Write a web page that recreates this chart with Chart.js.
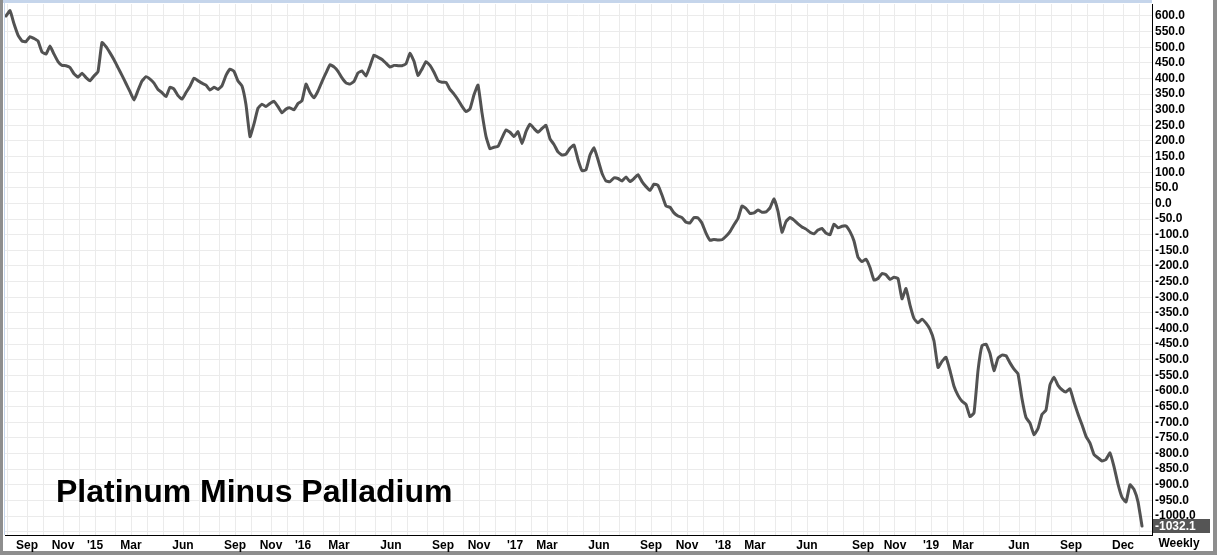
<!DOCTYPE html>
<html><head><meta charset="utf-8">
<script src="https://cdn.jsdelivr.net/npm/chart.js@4.4.1/dist/chart.umd.min.js"></script>
<style>html,body{margin:0;padding:0;background:#fff;overflow:hidden}#wrap{position:relative;width:1217px;height:555px}canvas{display:block}</style>
</head><body><div id="wrap"><canvas id="c" width="1217" height="555"></canvas></div>
<script>
const TITLE = 'Platinum Minus Palladium';
const PERIOD_LABEL = 'Weekly';
const FIRST_WEEK = [2014, 6, 25]; // Fri 25 Jul 2014, weekly closes
const spread = [
600,617,575,539,520,518,534,528,520,485,478,504,478,454,442,441,435,415,404,417,
403,393,408,422,515,502,482,460,435,410,384,358,331,362,392,406,398,385,365,355,
342,372,366,345,334,355,375,401,393,385,379,363,372,365,377,410,430,423,392,376,
316,214,255,305,318,310,320,327,310,290,302,306,300,320,329,382,355,338,360,390,
418,444,437,423,402,386,382,391,418,424,408,440,475,468,461,449,437,442,441,441,
447,481,455,410,430,454,442,420,393,388,388,365,350,332,311,294,303,348,379,290,
215,175,180,183,210,235,228,214,230,192,230,254,240,228,240,250,207,189,165,155,
158,177,187,140,105,108,155,178,140,97,72,70,82,80,72,85,70,80,92,70,
54,42,62,58,27,-8,-12,-30,-40,-45,-60,-62,-45,-46,-63,-95,-118,-115,-117,-116,
-105,-90,-68,-48,-8,-16,-32,-30,-21,-28,-27,-14,15,-25,-92,-58,-45,-53,-65,-75,
-82,-92,-97,-85,-80,-95,-100,-66,-78,-73,-72,-90,-120,-172,-186,-178,-205,-245,-240,-224,
-228,-243,-236,-240,-305,-272,-325,-368,-382,-370,-383,-403,-440,-525,-505,-492,-535,-585,-614,-633,
-643,-682,-670,-535,-455,-450,-480,-535,-495,-485,-487,-510,-530,-545,-625,-685,-703,-740,-720,-675,
-661,-580,-556,-582,-596,-603,-593,-635,-674,-708,-745,-767,-803,-814,-824,-819,-798,-842,-898,-940,
-955,-900,-915,-955,-1032.1
];
// one entry per month, Aug 2014 .. Jan 2020
const monthLabels = [
'', 'Sep', '', 'Nov', '',
"'15", '', 'Mar', '', '', 'Jun', '', '', 'Sep', '', 'Nov', '',
"'16", '', 'Mar', '', '', 'Jun', '', '', 'Sep', '', 'Nov', '',
"'17", '', 'Mar', '', '', 'Jun', '', '', 'Sep', '', 'Nov', '',
"'18", '', 'Mar', '', '', 'Jun', '', '', 'Sep', '', 'Nov', '',
"'19", '', 'Mar', '', '', 'Jun', '', '', 'Sep', '', '', 'Dec',
''
];
const yTickValues = [600,550,500,450,400,350,300,250,200,150,100,50,0,-50,-100,-150,-200,-250,-300,-350,-400,-450,-500,-550,-600,-650,-700,-750,-800,-850,-900,-950,-1000,-1050];

// month gridline positions from the weekly dates
const weekDates = spread.map((_, i) => new Date(FIRST_WEEK[0], FIRST_WEEK[1], FIRST_WEEK[2] + 7 * i));
const monthTicks = [];
weekDates.forEach((d, i) => {
  if (i > 0 && d.getMonth() !== weekDates[i - 1].getMonth()) {
    monthTicks.push({ pos: i - 0.75, label: monthLabels[monthTicks.length] || '' });
  }
});

Chart.defaults.font.family = '"Liberation Sans", Arial, sans-serif';
Chart.defaults.font.size = 12;
Chart.defaults.color = '#000';

const framePlugin = {
  id: 'frame',
  beforeDraw(chart) {
    const ctx = chart.ctx;
    ctx.save();
    ctx.fillStyle = '#8e8e8e';
    ctx.fillRect(0, 0, chart.width, chart.height);
    ctx.fillStyle = '#ffffff';
    ctx.fillRect(3, 0, 1210, 551);
    ctx.restore();
  },
  afterDraw(chart) {
    const ctx = chart.ctx, a = chart.chartArea, y = chart.scales.y;
    ctx.save();
    ctx.fillStyle = '#c5d5eb';
    ctx.fillRect(3, 0, a.right - 3, 3);
    ctx.fillRect(4, 0, 1, a.bottom);
    // last value box
    const last = spread[spread.length - 1];
    const py = y.getPixelForValue(last);
    ctx.fillStyle = '#555555';
    ctx.fillRect(a.right + 1, Math.round(py) - 7, 57, 14);
    ctx.fillStyle = '#ffffff';
    ctx.font = 'bold 12px "Liberation Sans", Arial, sans-serif';
    ctx.textBaseline = 'middle';
    ctx.textAlign = 'left';
    ctx.fillText(last.toFixed(1), a.right + 3, Math.round(py) + 0.5);
    // period label
    ctx.fillStyle = '#000';
    ctx.textAlign = 'center';
    ctx.fillText(PERIOD_LABEL, 1179, 544);
    // title
    ctx.font = 'bold 32px "Liberation Sans", Arial, sans-serif';
    ctx.textAlign = 'left';
    ctx.textBaseline = 'alphabetic';
    ctx.fillText(TITLE, 56, 502);
    ctx.restore();
  }
};

new Chart(document.getElementById('c'), {
  type: 'line',
  data: {
    datasets: [{
      data: spread.map((v, i) => ({ x: i, y: v })),
      borderColor: '#525252',
      borderWidth: 3,
      pointRadius: 0,
      tension: 0.12,
      borderJoinStyle: 'round',
      borderCapStyle: 'round',
      fill: false
    }]
  },
  options: {
    responsive: false,
    animation: false,
    devicePixelRatio: 1,
    layout: { padding: { left: 5, top: 4, right: 0, bottom: 0 } },
    plugins: { legend: { display: false }, tooltip: { enabled: false } },
    scales: {
      x: {
        type: 'linear',
        min: -0.25,
        max: 286.5,
        afterBuildTicks: s => { s.ticks = monthTicks.map(t => ({ value: t.pos })); },
        afterFit: s => { s.height = 20; s.paddingLeft = 0; s.paddingRight = 0; },
        ticks: {
          autoSkip: false, maxRotation: 0, minRotation: 0, padding: 3,
          font: { weight: 'bold', size: 12 }, color: '#000',
          callback: (v, i) => monthTicks[i] ? monthTicks[i].label : ''
        },
        grid: { color: '#ebebeb', drawTicks: false, lineWidth: 1 },
        border: { color: '#000', width: 1 }
      },
      y: {
        position: 'right',
        min: -1060.8,
        max: 638.4,
        afterBuildTicks: s => { s.ticks = yTickValues.map(v => ({ value: v })); },
        afterFit: s => { s.width = 65; s.paddingTop = 0; s.paddingBottom = 0; },
        ticks: {
          autoSkip: false, padding: 3,
          font: { weight: 'bold', size: 12 }, color: '#000',
          callback: v => v === -1050 ? '' : Number(v).toFixed(1)
        },
        grid: { color: '#ebebeb', drawTicks: false, lineWidth: 1 },
        border: { color: '#000', width: 1 }
      }
    }
  },
  plugins: [framePlugin]
});
</script>
</body></html>
